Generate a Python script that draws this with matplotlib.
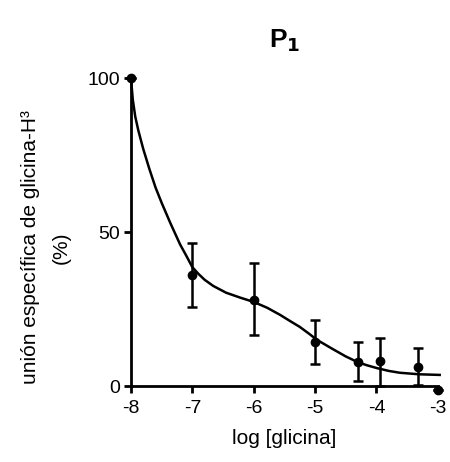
import matplotlib.pyplot as plt

plt.rcParams['axes.unicode_minus'] = False

# datos
log_gly = [-8, -7, -6, -5, -4.3, -3.95, -3.32, -3.0]
binding = [100, 36, 28, 14.3, 7.8, 8.1, 6.2, -1.2]
err_up = [0, 10.5, 12, 7, 6.5, 7.5, 6, 0]
err_dn = [0, 10.5, 11.5, 7, 6.2, 8.1, 6, 0]

# curva ajustada (leida punto a punto)
curve_x = [-8.0, -7.97, -7.93, -7.88, -7.8, -7.7, -7.6, -7.5, -7.36, -7.2,
           -7.09, -7.0, -6.9, -6.8, -6.66, -6.45, -6.22, -6.0, -5.78, -5.57,
           -5.4, -5.25, -5.1, -4.97, -4.85, -4.73, -4.5, -4.3, -4.15, -3.99,
           -3.8, -3.62, -3.3, -2.97]
curve_y = [100, 93, 87.5, 83, 77, 70.5, 64.5, 59.5, 53, 46,
           42, 38.6, 36.4, 34.5, 32.5, 30.3, 28.7, 27.3, 25.4, 23.1,
           21, 19.2, 17, 15, 13.6, 12.2, 9.6, 7.7, 6.7, 5.8,
           4.9, 4.3, 3.8, 3.6]

fig = plt.figure(figsize=(4.5, 4.62), dpi=100)
ax = fig.add_axes([0.291, 0.1645, 0.682, 0.6665])

ax.plot(curve_x, curve_y, color='black', lw=1.8, clip_on=False)
ax.errorbar(log_gly, binding, yerr=[err_dn, err_up], fmt='o', color='black',
            ms=6, elinewidth=1.8, capsize=3.5, capthick=1.8, clip_on=False)

ax.set_xlim(-8, -3)
ax.set_ylim(0, 100)
ax.set_xticks([-8, -7, -6, -5, -4, -3])
ax.set_yticks([0, 50, 100])
for s in ['top', 'right']:
    ax.spines[s].set_visible(False)
for s in ['left', 'bottom']:
    ax.spines[s].set_linewidth(2)
ax.tick_params(direction='out', length=5, width=2, labelsize=14, pad=3)
ax.tick_params(axis='x', pad=5)
for lab in ax.get_xticklabels() + ax.get_yticklabels():
    lab.set_fontfamily('Liberation Sans')

ax.set_xlabel('log [glicina]', fontsize=15, family='Liberation Sans', labelpad=9)
ax.set_ylabel('unión específica de glicina-H³\n(%)', fontsize=15,
              family='Liberation Sans', labelpad=12, linespacing=1.8, y=0.45)
ax.set_title('P$_\\mathbf{1}$', fontsize=19, fontweight='bold',
             family='Liberation Sans', pad=22)

fig.savefig('out.png', dpi=100)
